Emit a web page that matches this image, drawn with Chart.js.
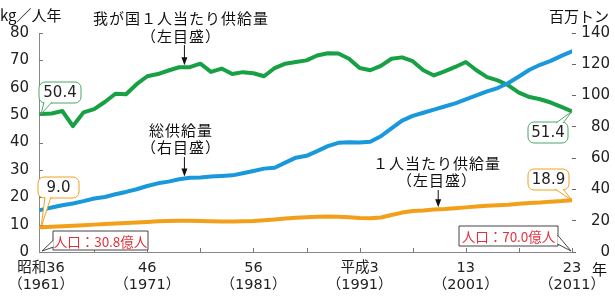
<!DOCTYPE html>
<html>
<head>
<meta charset="utf-8">
<script src="https://cdn.jsdelivr.net/npm/chart.js@4.4.0/dist/chart.umd.min.js"></script>
<style>
  html, body { margin: 0; padding: 0; background: #fff; }
  #wrap { width: 615px; height: 307px; }
</style>
</head>
<body>
<div id="wrap"><canvas id="chart"></canvas></div>
<script>
const years = [1961, 1962, 1963, 1964, 1965, 1966, 1967, 1968, 1969, 1970,
  1971, 1972, 1973, 1974, 1975, 1976, 1977, 1978, 1979, 1980,
  1981, 1982, 1983, 1984, 1985, 1986, 1987, 1988, 1989, 1990,
  1991, 1992, 1993, 1994, 1995, 1996, 1997, 1998, 1999, 2000,
  2001, 2002, 2003, 2004, 2005, 2006, 2007, 2008, 2009, 2010, 2011]

// 我が国1人当たり供給量 (kg/人年, 左目盛)
const japanPerCapita = [50.4, 50.6, 51.5, 46.0, 51.0, 52.2, 54.8, 57.8, 57.6, 61.3,
  64.2, 65.0, 66.3, 67.5, 67.5, 68.8, 65.8, 67.0, 65.0, 65.7,
  65.3, 64.2, 67.2, 68.8, 69.4, 70.0, 71.8, 72.6, 72.5, 70.6,
  67.2, 66.4, 68.0, 70.6, 71.1, 69.7, 66.4, 64.5, 66.0, 67.6,
  69.4, 66.4, 63.9, 62.7, 60.9, 58.2, 56.6, 55.8, 54.6, 53.0, 51.4]

// 総供給量 (百万トン, 右目盛)
const worldTotal = [26.9, 28.4, 29.9, 31.0, 32.5, 34.2, 35.2, 36.9, 38.4, 40.1,
  42.2, 43.9, 45.0, 46.5, 47.5, 47.7, 48.2, 48.6, 49.0, 50.3,
  51.8, 53.3, 53.9, 57.1, 60.3, 61.5, 64.5, 67.7, 69.8, 70.2,
  70.0, 70.5, 74.0, 79.0, 84.0, 87.0, 89.0, 91.0, 93.0, 95.0,
  97.5, 100.1, 102.7, 104.8, 108.0, 112.2, 116.5, 119.7, 122.2, 125.4, 128.3]

// 1人当たり供給量 (kg/人年, 左目盛)
const worldPerCapita = [9.0, 9.2, 9.4, 9.6, 9.8, 10.0, 10.2, 10.4, 10.6, 10.8,
  11.0, 11.2, 11.3, 11.4, 11.4, 11.3, 11.2, 11.1, 11.1, 11.2,
  11.3, 11.6, 11.9, 12.2, 12.5, 12.7, 12.9, 13.0, 12.9, 12.7,
  12.4, 12.3, 12.6, 13.5, 14.4, 15.0, 15.2, 15.5, 15.7, 16.0,
  16.3, 16.6, 16.9, 17.1, 17.3, 17.6, 17.9, 18.1, 18.4, 18.6, 18.9]

const tickYears = [1961, 1966, 1971, 1976, 1981, 1986, 1991, 1996, 2001, 2006, 2011]
const labelYears = [1961, 1971, 1981, 1991, 2001, 2011]
const eraLabels = ['昭和36', '46', '56', '平成3', '13', '23']
const adLabels = ['（1961）', '（1971）', '（1981）', '（1991）', '（2001）', '（2011）']

const GREEN = '#17a044'
const BLUE = '#1a98dc'
const ORANGE = '#f2a01a'
const CJK = '"Noto Sans CJK JP", sans-serif'
const NUM = '"DejaVu Sans", "Noto Sans CJK JP", sans-serif'

const pts = arr => years.map((yr, i) => ({ x: yr, y: arr[i] }))

function arrow(ctx, x, y1, y2) {
  ctx.save()
  ctx.strokeStyle = '#111'
  ctx.fillStyle = '#111'
  ctx.lineWidth = 1
  ctx.beginPath(); ctx.moveTo(x, y1); ctx.lineTo(x, y2 - 5); ctx.stroke()
  ctx.beginPath(); ctx.moveTo(x - 3, y2 - 8); ctx.lineTo(x, y2); ctx.lineTo(x + 3, y2 - 8); ctx.closePath(); ctx.fill()
  ctx.restore()
}

// speech bubble: box + tail to tip
function bubble(ctx, txt, bx, by, w, h, base, tip, color, opts) {
  opts = opts || {}
  ctx.save()
  ctx.lineWidth = 1
  ctx.strokeStyle = color
  ctx.fillStyle = '#fff'
  ctx.beginPath()
  if (opts.square) ctx.rect(bx, by, w, h)
  else ctx.roundRect(bx, by, w, h, 6)
  ctx.fill()
  ctx.stroke()
  ctx.beginPath()
  ctx.moveTo(base[0][0], base[0][1]); ctx.lineTo(tip[0], tip[1]); ctx.lineTo(base[1][0], base[1][1])
  ctx.closePath()
  ctx.fill()
  ctx.beginPath()
  ctx.moveTo(base[0][0], base[0][1]); ctx.lineTo(tip[0], tip[1]); ctx.lineTo(base[1][0], base[1][1])
  ctx.stroke()
  ctx.fillStyle = opts.textColor || '#222'
  ctx.font = opts.font || '15px ' + NUM
  ctx.textAlign = 'center'
  ctx.textBaseline = 'middle'
  ctx.fillText(txt, bx + w / 2, by + h / 2 + 1)
  ctx.restore()
}

const inwardTicks = {
  id: 'inwardTicks',
  afterDraw(chart) {
    const { ctx, scales: { x, y } } = chart
    ctx.save()
    ctx.strokeStyle = '#777'
    ctx.lineWidth = 1
    y.ticks.forEach(t => {
      const py = Math.round(y.getPixelForValue(t.value)) + 0.5
      ctx.beginPath(); ctx.moveTo(y.right, py); ctx.lineTo(y.right + 4, py); ctx.stroke()
    })
    x.ticks.forEach(t => {
      if (t.value === years[0]) return
      const px = Math.round(x.getPixelForValue(t.value)) + 0.5
      ctx.beginPath(); ctx.moveTo(px, x.top); ctx.lineTo(px, x.top - 4); ctx.stroke()
    })
    ctx.restore()
  }
}

const annotate = {
  id: 'annotate',
  afterDraw(chart) {
    const { ctx, scales: { x, y, y2 } } = chart
    const last = years.length - 1
    ctx.save()
    ctx.fillStyle = '#111'
    ctx.font = '15px ' + CJK
    ctx.textBaseline = 'middle'

    ctx.textAlign = 'left'
    ctx.fillText('kg／人年', 0, 15)
    ctx.textAlign = 'right'
    ctx.fillText('百万トン', 609, 16)
    ctx.textAlign = 'left'
    ctx.fillText('年', 592, 269)

    ctx.textAlign = 'center'
    ctx.letterSpacing = '1px'
    ctx.fillText('我が国１人当たり供給量', 181, 18)
    ctx.fillText('（左目盛）', 181, 36)
    ctx.fillText('総供給量', 181, 130)
    ctx.fillText('（右目盛）', 181, 147)
    ctx.fillText('１人当たり供給量', 437, 163)
    ctx.fillText('（左目盛）', 437, 180)
    ctx.letterSpacing = '0px'

    // arrows pointing to the lines
    let ax = x.getPixelForValue(1974.5)
    arrow(ctx, ax, 45, y.getPixelForValue((japanPerCapita[13] + japanPerCapita[14]) / 2) - 2)
    arrow(ctx, ax, 157, y2.getPixelForValue((worldTotal[13] + worldTotal[14]) / 2) - 2)
    ax = x.getPixelForValue(1998.4)
    arrow(ctx, ax, 190, y.getPixelForValue((worldPerCapita[37] + worldPerCapita[38]) / 2) - 2)

    // value callouts
    const x0 = x.getPixelForValue(years[0])
    const x1 = x.getPixelForValue(years[last])
    bubble(ctx, japanPerCapita[0].toFixed(1), 39, 82, 42, 21,
      [[44, 102], [52, 102]], [x0, y.getPixelForValue(japanPerCapita[0])], '#4aa868')
    bubble(ctx, worldPerCapita[0].toFixed(1), 38, 177, 41, 21,
      [[45, 197], [51, 197]], [x0, y.getPixelForValue(worldPerCapita[0])], ORANGE)
    bubble(ctx, japanPerCapita[last].toFixed(1), 528, 122, 40, 21,
      [[556, 123], [563, 123]], [x1, y.getPixelForValue(japanPerCapita[last])], '#4aa868')
    bubble(ctx, worldPerCapita[last].toFixed(1), 528, 169, 41, 21,
      [[555, 189], [563, 189]], [x1, y.getPixelForValue(worldPerCapita[last])], ORANGE)

    // population boxes
    const popFont = '13.5px ' + CJK
    bubble(ctx, '人口：30.8億人', 53, 231, 95, 19,
      [[53.5, 240], [53.5, 247]], [x0 + 1, y.getPixelForValue(0) - 1], '#444',
      { square: true, textColor: '#e0303c', font: popFont })
    bubble(ctx, '人口：70.0億人', 459, 226, 99, 20,
      [[557.5, 235], [557.5, 244]], [x1 - 1, y.getPixelForValue(0) - 1], '#444',
      { square: true, textColor: '#e0303c', font: popFont })
    ctx.restore()
  }
}

const ctx = document.getElementById('chart').getContext('2d')
new Chart(ctx, {
  type: 'line',
  data: {
    datasets: [
      { label: '1人当たり供給量', data: pts(worldPerCapita), yAxisID: 'y', borderColor: ORANGE },
      { label: '総供給量', data: pts(worldTotal), yAxisID: 'y2', borderColor: BLUE },
      { label: '我が国1人当たり供給量', data: pts(japanPerCapita), yAxisID: 'y', borderColor: GREEN },
    ]
  },
  options: {
    responsive: true,
    maintainAspectRatio: false,
    animation: false,
    layout: { padding: { top: 33, right: 5, left: 0, bottom: 0 } },
    elements: {
      line: { borderWidth: 4, tension: 0, borderCapStyle: 'round', borderJoinStyle: 'round' },
      point: { radius: 0 }
    },
    plugins: {
      legend: { display: false },
      title: { display: false },
      tooltip: { enabled: false }
    },
    scales: {
      x: {
        type: 'linear',
        min: 1960.81,
        max: 2011,
        afterBuildTicks: s => { s.ticks = tickYears.map(v => ({ value: v })) },
        afterFit: s => { s.height = 55 },
        grid: { display: false, drawTicks: false },
        border: { display: true, color: '#888', width: 1 },
        ticks: {
          autoSkip: false,
          maxRotation: 0,
          padding: 8,
          color: '#222',
          font: { family: NUM, size: 14.5, lineHeight: '17px' },
          callback: v => {
            const i = labelYears.indexOf(v)
            return i < 0 ? '' : [eraLabels[i], adLabels[i]]
          }
        }
      },
      y: {
        position: 'left',
        min: 0,
        max: 80,
        afterFit: s => { s.width = 34 },
        grid: { display: false, drawTicks: false },
        border: { display: true, color: '#888', width: 1 },
        ticks: { stepSize: 10, padding: 10, color: '#222', font: { family: NUM, size: 15 } }
      },
      y2: {
        position: 'right',
        min: 0,
        max: 140,
        afterFit: s => { s.width = 38 },
        grid: { display: true, drawOnChartArea: false, drawTicks: true, tickLength: 4, color: '#666' },
        border: { display: false },
        ticks: { stepSize: 20, padding: 5, crossAlign: 'far', color: '#222', font: { family: NUM, size: 15 } }
      }
    }
  },
  plugins: [inwardTicks, annotate]
})
</script>
</body>
</html>
